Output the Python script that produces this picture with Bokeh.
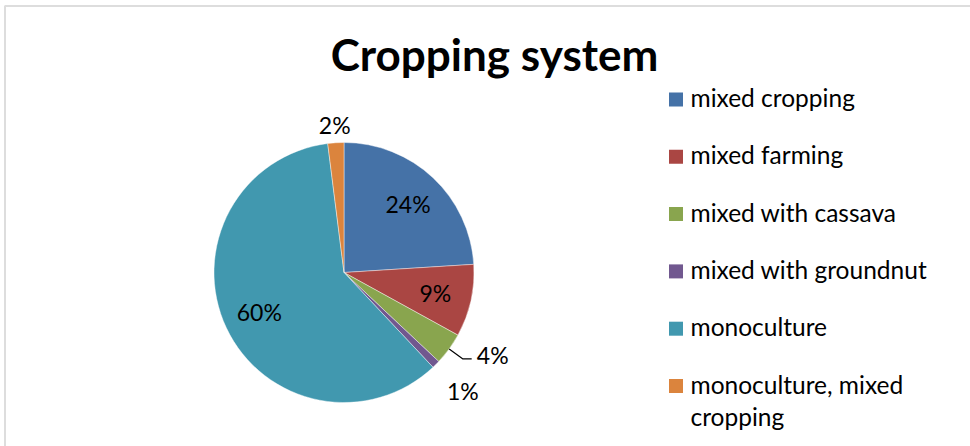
import math
import textwrap

from bokeh.plotting import figure
from bokeh.models import Range1d, BoxAnnotation, ColumnDataSource
from bokeh.core.properties import value
from bokeh.embed import file_html
from bokeh.resources import INLINE

# ---- data -------------------------------------------------------------
categories = [
    "mixed cropping",
    "mixed farming",
    "mixed with cassava",
    "mixed with groundnut",
    "monoculture",
    "monoculture, mixed cropping",
]
shares = [24, 9, 4, 1, 60, 2]
title_text = "Cropping system"

# ---- style ------------------------------------------------------------
colors = ["#4572A7", "#AA4643", "#89A54E", "#71588F", "#4198AF", "#DB843D"]
FONT = "Lato"
W, H = 970, 446
LABEL_FS, LEGEND_FS, TITLE_FS = 23, 24.5, 44
BASE_SHIFT = 0.36  # baseline correction, as a fraction of the font size

# labels of thin slices sit outside the pie: (distance from centre, angle shift in degrees, leader line)
outside_labels = {
    "mixed with cassava": (170, 7, True),
    "mixed with groundnut": (168, 0, False),
    "monoculture, mixed cropping": (148, 0, False),
}


def sy(y, fs=0.0):
    """Convert a top-down pixel offset to the plot's y coordinate."""
    return H - y + BASE_SHIFT * fs


p = figure(
    width=W, height=H,
    x_range=Range1d(0, W), y_range=Range1d(0, H),
    output_backend="svg", toolbar_location=None,
    x_axis_location=None, y_axis_location=None,
    min_border=0,
)
p.outline_line_color = None
p.grid.visible = False
p.background_fill_color = "white"
p.border_fill_color = "white"

# chart frame
p.add_layout(BoxAnnotation(left=4.5, right=W + 20, bottom=-20, top=sy(5.5),
                           fill_alpha=0, line_color="#8f8f8f", line_width=2))

# ---- pie --------------------------------------------------------------
cx, cy, R = 343.5, sy(272), 130
total = float(sum(shares))
starts, ends, mids = [], [], []
acc = 0.0
for s in shares:
    a0 = math.pi / 2 - 2 * math.pi * acc / total
    acc += s
    a1 = math.pi / 2 - 2 * math.pi * acc / total
    starts.append(a0)
    ends.append(a1)
    mids.append((a0 + a1) / 2)

src = ColumnDataSource(dict(start=starts, end=ends, color=colors))
p.wedge(x=cx, y=cy, radius=R, radius_units="screen",
        start_angle="start", end_angle="end", direction="clock",
        fill_color="color", line_color="white", line_width=0.6, line_alpha=0.7,
        source=src)

# ---- percentage labels ------------------------------------------------
lx, ly, lt = [], [], []
for cat, s, m in zip(categories, shares, mids):
    txt = f"{s / total * 100:.0f}%"
    if cat in outside_labels:
        dist, shift, leader = outside_labels[cat]
        ang = m + math.radians(shift)
        x = cx + dist * math.cos(ang)
        y = cy + dist * math.sin(ang)
        if leader:
            ex, ey = cx + R * math.cos(m), cy + R * math.sin(m)
            bx, by = cx + (R + 17) * math.cos(m), cy + (R + 17) * math.sin(m)
            p.line([ex, bx, x - 21], [ey, by, by], line_color="black", line_width=1.2)
    else:
        x = cx + 0.72 * R * math.cos(m)
        y = cy + 0.72 * R * math.sin(m)
    lx.append(x)
    ly.append(y - 8 + BASE_SHIFT * LABEL_FS)
    lt.append(txt)

p.text(x=lx, y=ly, text=lt, text_font=value(FONT), text_font_size=f"{LABEL_FS}px",
       text_align="center", text_baseline="alphabetic", text_color="black")

# ---- title ------------------------------------------------------------
p.text(x=[494], y=[sy(69, TITLE_FS)], text=[title_text], text_font=value(FONT),
       text_font_size=f"{TITLE_FS}px", text_font_style="bold",
       text_align="center", text_baseline="alphabetic", text_color="black")

# ---- legend -----------------------------------------------------------
row0, step, line_gap = 106, 57.3, 32
sq_x, sq_y, tx_x, tx_y, tx_s = [], [], [], [], []
for i, cat in enumerate(categories):
    base = row0 + i * step
    sq_x.append(675.5)
    sq_y.append(sy(base - 7))
    for j, part in enumerate(textwrap.wrap(cat, width=20)):
        tx_x.append(690)
        tx_y.append(sy(base + j * line_gap, LEGEND_FS))
        tx_s.append(part)

p.scatter(x=sq_x, y=sq_y, marker="square", size=14, fill_color=colors,
          line_color=None)
p.text(x=tx_x, y=tx_y, text=tx_s, text_font=value(FONT), text_font_size=f"{LEGEND_FS}px",
       text_align="left", text_baseline="alphabetic", text_color="black")

open("out.html", "w").write(file_html(p, INLINE))
